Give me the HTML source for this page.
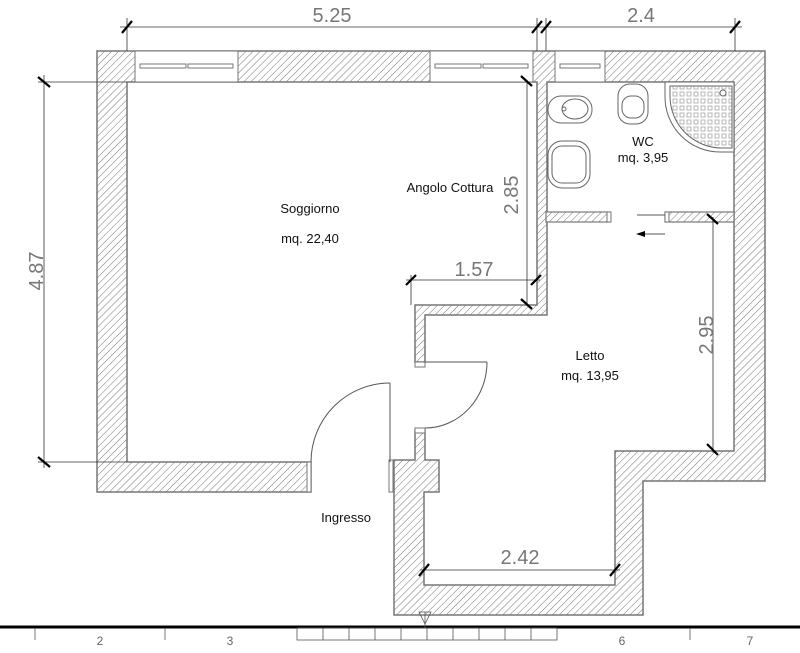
<!DOCTYPE html>
<html><head><meta charset="utf-8"><style>
html,body{margin:0;padding:0;background:#fff;width:800px;height:653px;overflow:hidden}
text{font-family:"Liberation Sans",sans-serif}
</style></head><body>
<svg width="800" height="653" viewBox="0 0 800 653" xmlns="http://www.w3.org/2000/svg">
<defs>
<pattern id="h" width="5" height="5" patternUnits="userSpaceOnUse" patternTransform="rotate(45)">
<rect width="5" height="5" fill="#fff"/><line x1="0" y1="0" x2="0" y2="5" stroke="#666" stroke-width="0.9"/>
</pattern>
<pattern id="dots" width="7" height="7" patternUnits="userSpaceOnUse">
<rect width="7" height="7" fill="#fff"/><rect x="1" y="1" width="4" height="4" fill="none" stroke="#999" stroke-width="0.7"/>
</pattern>
</defs>
<path d="M97,51 L765,51 L765,481 L643,481 L643,615 L394,615 L394,460 L415,460 L415,430 L425,430 L425,460 L439,460 L439,492 L424,492 L424,585 L615,585 L615,451 L734,451 L734,82 L547,82 L547,315 L425,315 L425,362 L415,362 L415,305 L537,305 L537,82 L127,82 L127,462 L311,462 L311,492 L97,492 Z" fill="url(#h)" stroke="#777" stroke-width="1.5"/>
<rect x="546" y="212" width="64" height="10" fill="url(#h)" stroke="#777" stroke-width="1.2"/>
<rect x="665" y="212" width="69" height="10" fill="url(#h)" stroke="#777" stroke-width="1.2"/>
<g fill="#fff" stroke="#777" stroke-width="1">
<rect x="135" y="51" width="103" height="31"/>
<rect x="430" y="51" width="103" height="31"/>
<rect x="555" y="51" width="50" height="31"/>
<rect x="140" y="64" width="46" height="4"/><rect x="188" y="64" width="45" height="4"/>
<rect x="435" y="64" width="46" height="4"/><rect x="483" y="64" width="45" height="4"/>
<rect x="560" y="64" width="40" height="4"/>
<rect x="415" y="362" width="10" height="5"/>
<rect x="415" y="428" width="10" height="5"/>
<rect x="307" y="462" width="4" height="30"/>
<rect x="389" y="460" width="4" height="32"/>
<rect x="607" y="212" width="4" height="10"/>
<rect x="665" y="212" width="4" height="10"/>
</g>
<g fill="none" stroke="#555" stroke-width="1">
<line x1="390" y1="383" x2="390" y2="462"/>
<path d="M390,383 A79,79 0 0 0 311,462"/>
<line x1="425" y1="362" x2="487" y2="362"/>
<path d="M487,362 A62,66 0 0 1 425,428"/>
<line x1="637" y1="215" x2="665" y2="215"/>
<line x1="645" y1="234" x2="665" y2="234"/>
</g>
<polygon points="636,234 645,231 645,237" fill="#000"/>
<g fill="#fff" stroke="#666" stroke-width="1">
<rect x="548" y="96" width="44" height="27" rx="13"/>
<ellipse cx="575" cy="109" rx="13" ry="10"/><circle cx="564" cy="109" r="2"/>
<rect x="618" y="84" width="30" height="40" rx="12"/>
<rect x="622" y="96" width="22" height="22" rx="9"/>
<rect x="548" y="141" width="42" height="47" rx="14"/>
<rect x="552" y="146" width="34" height="37" rx="10"/>
<path d="M665,82 L734,82 L734,152 L720,152 A55,55 0 0 1 665,97 Z"/>
<path d="M670,86 L732,86 L732,148 L722,148 A52,52 0 0 1 670,96 Z" fill="url(#dots)"/>
<circle cx="723" cy="93" r="3"/>
</g>
<g stroke="#333" stroke-width="0.8" fill="none">
<line x1="120" y1="27" x2="742" y2="27"/>
<line x1="127" y1="18" x2="127" y2="51"/>
<line x1="537" y1="18" x2="537" y2="51"/>
<line x1="546" y1="18" x2="546" y2="51"/>
<line x1="735" y1="18" x2="735" y2="51"/>
<line x1="38" y1="82" x2="127" y2="82"/>
<line x1="38" y1="462" x2="127" y2="462"/>
<line x1="44" y1="75" x2="44" y2="468"/>
<line x1="527" y1="82" x2="527" y2="305"/>
<line x1="406" y1="280" x2="540" y2="280"/>
<line x1="411" y1="275" x2="411" y2="305"/>
<line x1="713" y1="217" x2="713" y2="453"/>
<line x1="420" y1="570" x2="620" y2="570"/>
</g>
<g stroke="#000" stroke-width="2.2">
<line x1="122" y1="33" x2="132" y2="21"/><line x1="532" y1="33" x2="542" y2="21"/><line x1="541" y1="33" x2="551" y2="21"/><line x1="730" y1="33" x2="740" y2="21"/>
<line x1="38" y1="77" x2="50" y2="87"/><line x1="38" y1="457" x2="50" y2="467"/>
<line x1="521" y1="76" x2="532" y2="86"/><line x1="521" y1="299" x2="532" y2="309"/>
<line x1="406" y1="285" x2="416" y2="275"/><line x1="531" y1="285" x2="541" y2="275"/>
<line x1="707" y1="214" x2="718" y2="224"/><line x1="707" y1="444" x2="718" y2="455"/>
<line x1="419" y1="576" x2="429" y2="564"/><line x1="610" y1="576" x2="620" y2="564"/>
</g>
<g fill="#777" font-size="20" text-anchor="middle">
<text x="332" y="22">5.25</text>
<text x="641" y="22">2.4</text>
<text x="474" y="276">1.57</text>
<text x="520" y="564">2.42</text>
<text transform="translate(43,271) rotate(-90)">4.87</text>
<text transform="translate(518,195) rotate(-90)">2.85</text>
<text transform="translate(713,335) rotate(-90)">2.95</text>
</g>
<g fill="#111" font-size="13" text-anchor="middle">
<text x="310" y="213">Soggiorno</text>
<text x="310" y="243">mq. 22,40</text>
<text x="450" y="192">Angolo Cottura</text>
<text x="643" y="146">WC</text>
<text x="643" y="162">mq. 3,95</text>
<text x="590" y="360">Letto</text>
<text x="590" y="380">mq. 13,95</text>
<text x="346" y="522">Ingresso</text>
</g>
<line x1="0" y1="627" x2="800" y2="627" stroke="#000" stroke-width="3"/>
<g stroke="#555" stroke-width="0.8" fill="none">
<line x1="35" y1="628" x2="35" y2="640"/><line x1="165" y1="628" x2="165" y2="640"/><line x1="690" y1="628" x2="690" y2="640"/>
<rect x="297" y="628" width="260" height="12"/>
<path d="M323,628V640M349,628V640M375,628V640M401,628V640M427,628V640M453,628V640M479,628V640M505,628V640M531,628V640"/>
<polygon points="419,612 431,612 425,624"/><line x1="425" y1="612" x2="425" y2="628"/>
</g>
<g fill="#666" font-size="12" text-anchor="middle">
<text x="100" y="645">2</text><text x="230" y="645">3</text><text x="622" y="645">6</text><text x="750" y="645">7</text>
</g>
</svg>
</body></html>
